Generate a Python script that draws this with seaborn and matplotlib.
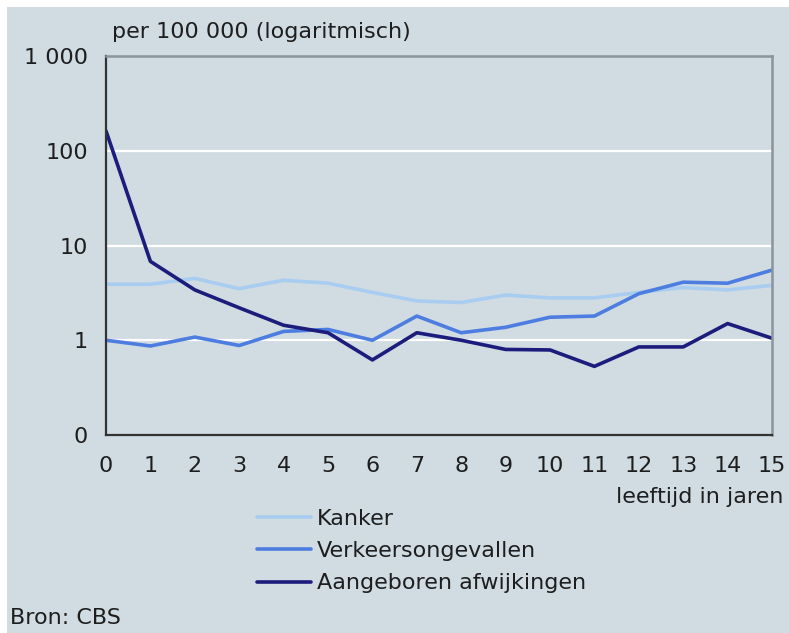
import numpy as np
import pandas as pd
import matplotlib
matplotlib.use("Agg")
import matplotlib.pyplot as plt
from matplotlib.patches import Rectangle
import seaborn as sns

# data (per 100 000, log scale)
ages = list(range(16))
kanker = [3.9, 3.9, 4.5, 3.5, 4.3, 4.0, 3.2, 2.6, 2.5, 3.0, 2.8, 2.8, 3.2, 3.6, 3.4, 3.8]
verkeer = [1.0, 0.87, 1.08, 0.88, 1.24, 1.3, 1.0, 1.8, 1.2, 1.37, 1.75, 1.8, 3.1, 4.1, 4.0, 5.5]
aangeboren = [162, 6.8, 3.4, 2.2, 1.44, 1.2, 0.62, 1.2, 1.0, 0.8, 0.79, 0.53, 0.85, 0.85, 1.5, 1.05]

series_names = ["Kanker", "Verkeersongevallen", "Aangeboren afwijkingen"]
colors = ["#a9cdf0", "#4d7de0", "#1c1c7c"]
y_ticks = [0.1, 1, 10, 100, 1000]
y_labels = ["0", "1", "10", "100", "1 000"]

df = pd.DataFrame({
    "leeftijd": ages * 3,
    "waarde": kanker + verkeer + aangeboren,
    "reeks": [series_names[0]] * 16 + [series_names[1]] * 16 + [series_names[2]] * 16,
})

sns.set_style("white")
plt.rcParams["font.family"] = ["DejaVu Sans"]
bg = "#d0dce2"
txt = "#1e1e1e"
fs = 16

fig = plt.figure(figsize=(7.89, 6.33), dpi=100, facecolor="white")
fig.patches.append(Rectangle((7 / 789, 0), 1, 1 - 7 / 633, transform=fig.transFigure,
                             facecolor=bg, edgecolor="none", zorder=-10))

ax = fig.add_axes([106 / 789, 1 - 435 / 633, (772 - 106) / 789, (435 - 56) / 633])
ax.set_facecolor(bg)

sns.lineplot(data=df, x="leeftijd", y="waarde", hue="reeks", hue_order=series_names,
             palette=colors, linewidth=2.6, ax=ax, legend=False)

ax.set_yscale("log")
ax.set_ylim(0.1, 1000)
ax.set_xlim(0, 15)
ax.set_xticks(ages)
ax.set_xticklabels([str(a) for a in ages], fontsize=fs, color=txt)
ax.set_yticks(y_ticks)
ax.set_yticklabels(y_labels, fontsize=fs, color=txt)
ax.minorticks_off()
ax.tick_params(axis="both", direction="out", length=5, width=1.2, color="#333333")
ax.tick_params(axis="x", pad=10)
ax.tick_params(axis="y", pad=8)
ax.set_xlabel("")
ax.set_ylabel("")

for yv in [1, 10, 100]:
    ax.axhline(yv, color="white", linewidth=1.6, zorder=0.5)

for side in ["left", "bottom"]:
    ax.spines[side].set_color("#333333")
    ax.spines[side].set_linewidth(1.6)
for side in ["top", "right"]:
    ax.spines[side].set_color("#8a959b")
    ax.spines[side].set_linewidth(1.8)

fig.text(112 / 789, 1 - 32 / 633, "per 100 000 (logaritmisch)", fontsize=fs, color=txt,
         ha="left", va="center")
fig.text(783 / 789, 1 - 497 / 633, "leeftijd in jaren", fontsize=fs, color=txt,
         ha="right", va="center")
fig.text(10 / 789, 1 - 618 / 633, "Bron: CBS", fontsize=fs, color=txt,
         ha="left", va="center")

handles = [plt.Line2D([], [], color=c, linewidth=2.6) for c in colors]
leg = ax.legend(handles, series_names, loc="upper left",
                bbox_to_anchor=(257 / 789, 1 - 509 / 633), bbox_transform=fig.transFigure,
                frameon=False, fontsize=fs, handlelength=2.45, handletextpad=0.25,
                labelspacing=0.55, borderpad=0, borderaxespad=0)
for t in leg.get_texts():
    t.set_color(txt)

fig.savefig("out.png", dpi=100, facecolor="white")
